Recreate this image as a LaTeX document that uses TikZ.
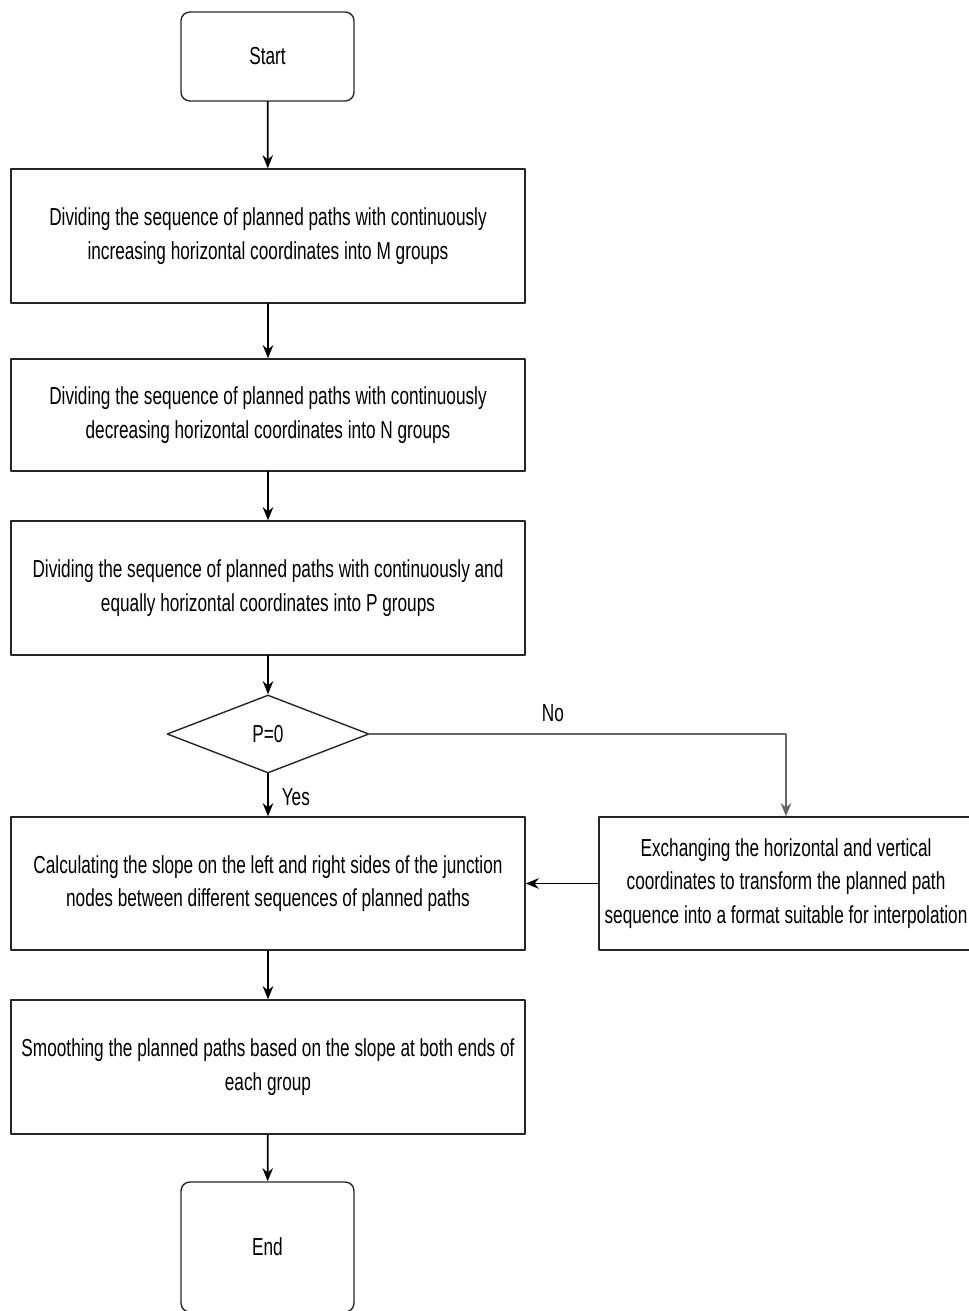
\documentclass[tikz,border=0pt]{standalone}
\usepackage{fontspec}
\setmainfont[FakeStretch=0.70]{Liberation Sans}
\usetikzlibrary{arrows.meta, shapes.geometric, positioning}

\begin{document}
\begin{tikzpicture}[
    x=0.02cm, y=-0.02cm,
    line cap=round, line join=round,
    font=\fontsize{14}{19}\selectfont,
    boxterm/.style={draw=black!85, line width=0.8pt, rounded corners=5pt, minimum width=3.46cm, align=center, inner sep=0pt},
    boxstep/.style={draw=black!85, line width=0.8pt, minimum width=10.28cm, minimum height=2.68cm, align=center, inner sep=1pt},
    boxcheck/.style={draw=black!85, line width=0.8pt, diamond, minimum width=4.04cm, minimum height=1.56cm, inner sep=0pt},
    flow/.style={-{Stealth[length=7.5pt, width=6pt]}, line width=1pt, black}
  ]
    \clip (0,0) rectangle (969,1311);
    \useasboundingbox (0,0) rectangle (969,1311);

    % Inicio
    \node[boxterm, minimum height=1.78cm] (Start) at (267.5, 56.5) {Start};

    % Pasos de division
    \node[boxstep] (DivM) at (268, 236) {Dividing the sequence of planned paths with continuously\\ increasing horizontal coordinates into M groups};
    \node[boxstep, minimum height=2.24cm] (DivN) at (268, 415) {Dividing the sequence of planned paths with continuously\\ decreasing horizontal coordinates into N groups};
    \node[boxstep] (DivP) at (268, 588) {Dividing the sequence of planned paths with continuously and\\ equally horizontal coordinates into P groups};

    % Decision
    \node[boxcheck] (CheckP) at (268, 734) {P=0};

    % Pendientes e intercambio
    \node[boxstep, minimum height=2.66cm] (Slope) at (268, 883.5) {Calculating the slope on the left and right sides of the junction\\ nodes between different sequences of planned paths};
    \node[boxstep, minimum width=7.48cm, minimum height=2.66cm] (Swap) at (786, 883.5) {Exchanging the horizontal and vertical\\ coordinates to transform the planned path\\ sequence into a format suitable for interpolation};

    % Suavizado y fin
    \node[boxstep] (Smooth) at (268, 1067) {Smoothing the planned paths based on the slope at both ends of\\ each group};
    \node[boxterm, minimum height=2.6cm] (End) at (267.5, 1247) {End};

    % Conexiones
    \draw[flow] (Start) -- (DivM);
    \draw[flow] (DivM) -- (DivN);
    \draw[flow] (DivN) -- (DivP);
    \draw[flow] (DivP) -- (CheckP);
    \draw[flow] (CheckP) -- node[right, pos=0.55, xshift=4pt] {Yes} (Slope);
    \draw[flow, black!60, line width=1.6pt] (CheckP.east) -| node[pos=0.22, above=3pt, black] {No} (Swap.north);
    \draw[flow] (Swap) -- (Slope);
    \draw[flow] (Slope) -- (Smooth);
    \draw[flow] (Smooth) -- (End);

\end{tikzpicture}
\end{document}
